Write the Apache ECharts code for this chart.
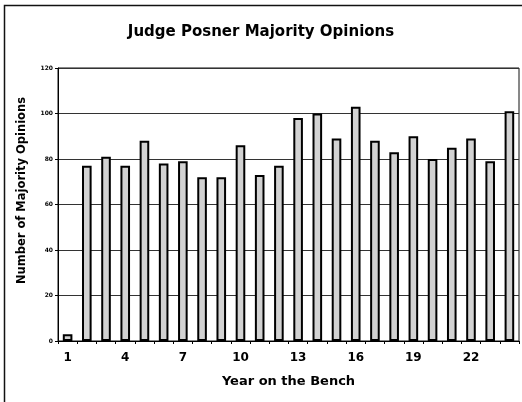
<!DOCTYPE html>
<html>
<head>
<meta charset="utf-8">
<script src="https://cdn.jsdelivr.net/npm/echarts@6/dist/echarts.min.js"></script>
<style>
  html, body { margin: 0; padding: 0; background: #fff; }
  #chart { width: 522px; height: 402px; }
</style>
</head>
<body>
<div id="chart"></div>
<script>
const years = ['1','2','3','4','5','6','7','8','9','10','11','12','13','14','15','16','17','18','19','20','21','22','23','24']
const opinions = [3, 77, 81, 77, 88, 78, 79, 72, 72, 86, 73, 77, 98, 100, 89, 103, 88, 83, 90, 80, 85, 89, 79, 101]
const yTicks = [0, 20, 40, 60, 80, 100, 120]

const chart = echarts.init(document.getElementById('chart'))
const font = 'DejaVu Sans, Verdana, sans-serif'

chart.setOption({
  animation: false,
  title: {
    text: 'Judge Posner Majority Opinions',
    left: 'center', top: 20,
    textStyle: { fontFamily: font, fontSize: 15, fontWeight: 'bold', color: '#000' }
  },
  graphic: [{
    type: 'rect',
    shape: { x: 4.5, y: 5.5, width: 540, height: 420 },
    style: { fill: 'none', stroke: '#111', lineWidth: 1.5 }
  }],
  grid: { left: 58, right: 3, top: 68, bottom: 61, show: true, borderColor: '#111', borderWidth: 1 },
  xAxis: {
    type: 'category',
    data: years,
    name: 'Year on the Bench',
    nameLocation: 'middle',
    nameGap: 34,
    nameTextStyle: { fontFamily: font, fontSize: 13, fontWeight: 'bold', color: '#000' },
    axisLine: { lineStyle: { color: '#000', width: 1 } },
    axisTick: { show: true, interval: 0, length: 3, lineStyle: { color: '#000' } },
    axisLabel: { interval: 2, fontFamily: font, fontSize: 12, fontWeight: 'bold', color: '#000', margin: 11 }
  },
  yAxis: {
    type: 'value',
    min: yTicks[0], max: yTicks[yTicks.length - 1], interval: 20,
    name: 'Number of Majority Opinions',
    nameLocation: 'middle',
    nameGap: 30,
    nameTextStyle: { fontFamily: font, fontSize: 11.5, fontWeight: 'bold', color: '#000', padding: [0, 0, 0, 28] },
    axisLine: { show: true, lineStyle: { color: '#000', width: 1 } },
    axisTick: { show: true, length: 3, lineStyle: { color: '#000' } },
    axisLabel: { fontFamily: font, fontSize: 6, fontWeight: 'bold', color: '#000', margin: 5 },
    splitLine: { lineStyle: { color: '#333', width: 1 } }
  },
  series: [{
    type: 'bar',
    data: opinions,
    barWidth: '50%',
    itemStyle: { color: '#d2d2d2', borderColor: '#000', borderWidth: 2 }
  }]
})
</script>
</body>
</html>
